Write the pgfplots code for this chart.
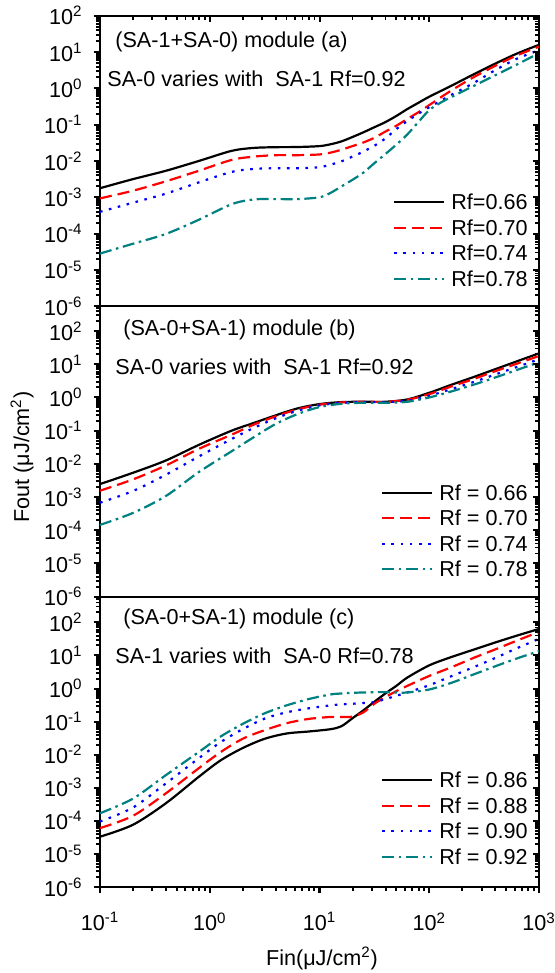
\documentclass[border=0pt]{standalone}
\usepackage{fontspec}
\setmainfont{Liberation Sans}
\usepackage{pgfplots}
\pgfplotsset{compat=1.18}
\definecolor{tealc}{RGB}{0,128,128}
\pgfplotsset{every tick/.style={black, line width=1pt}}
\begin{document}
\begin{tikzpicture}[font=\fontsize{10.8}{13}\selectfont]
% ---------- panel (a)
\begin{axis}[at={(0,290.4pt)}, anchor=south west,
    scale only axis, width=219.5pt, height=145.2pt,
    xmode=log, ymode=log, xmin=0.1, xmax=1000, ymin=1e-6, ymax=100,
    axis line style={line width=1pt},
    major tick length=3.2pt, minor tick length=2pt,
    tick align=outside, ytick pos=left,
    ytick={1e-6,1e-5,1e-4,1e-3,1e-2,1e-1,1,10,100},
    yticklabels={10\textsuperscript{-6},10\textsuperscript{-5},10\textsuperscript{-4},10\textsuperscript{-3},10\textsuperscript{-2},10\textsuperscript{-1},10\textsuperscript{0},10\textsuperscript{1},10\textsuperscript{2}},
    yticklabel style={xshift=-2.0pt},
    xtick=\empty,
    legend style={draw=none, fill=none, inner sep=0pt, at={(1,0)}, anchor=south east, xshift=-5.5pt, yshift=9.35pt, row sep=4.45pt, column sep=3pt, nodes={inner sep=0pt, text height=8pt, text depth=0.3pt}},
    legend cell align=left,
    legend image code/.code={\draw[#1] (0pt,0pt) -- (25pt,0pt);}]
\addplot[black, line width=1.1pt, solid, smooth] coordinates {(0.1,1.778e-3)(0.1995,3.162e-3)(0.398,5.37e-3)(0.794,1.0e-2)(1.585,1.905e-2)(2.512,2.291e-2)(3.981,2.399e-2)(6.310,2.427e-2)(10,2.570e-2)(12.59,2.884e-2)(15.85,3.467e-2)(19.95,4.571e-2)(25.12,6.166e-2)(31.62,8.511e-2)(39.81,0.1175)(50.12,0.1738)(63.10,0.2692)(79.43,0.3981)(100,0.5888)(158.5,1.175)(251.2,2.399)(398.1,4.786)(631.0,9.120)(1000,15.85)};
\addlegendentry{Rf=0.66}
\addplot[red, line width=1.1pt, dash pattern=on 6pt off 3pt, smooth] coordinates {(0.1,9.33e-4)(0.1995,1.514e-3)(0.398,2.754e-3)(0.794,5.37e-3)(1.585,1.072e-2)(2.512,1.318e-2)(3.981,1.445e-2)(6.310,1.445e-2)(10,1.514e-2)(12.59,1.698e-2)(15.85,2.042e-2)(19.95,2.570e-2)(25.12,3.236e-2)(31.62,4.365e-2)(39.81,6.457e-2)(50.12,9.333e-2)(63.10,0.1445)(79.43,0.2188)(100,0.3467)(158.5,0.8710)(251.2,1.995)(398.1,4.169)(631.0,8.128)(1000,14.13)};
\addlegendentry{Rf=0.70}
\addplot[blue, line width=1.1pt, dash pattern=on 1.3pt off 3.3pt, smooth] coordinates {(0.1,3.981e-4)(0.1995,7.079e-4)(0.398,1.259e-3)(0.794,2.570e-3)(1.585,5.012e-3)(2.512,6.026e-3)(3.981,6.310e-3)(6.310,6.310e-3)(10,6.761e-3)(12.59,7.943e-3)(15.85,9.772e-3)(19.95,1.318e-2)(25.12,1.820e-2)(31.62,2.630e-2)(39.81,4.169e-2)(50.12,7.586e-2)(63.10,0.1259)(79.43,0.1995)(100,0.3020)(158.5,0.6607)(251.2,1.380)(398.1,3.162)(631.0,6.607)(1000,11.22)};
\addlegendentry{Rf=0.74}
\addplot[tealc, line width=1.1pt, dash pattern=on 6pt off 2.3pt on 1.3pt off 2.3pt, smooth] coordinates {(0.1,2.818e-5)(0.1995,5.248e-5)(0.398,9.772e-5)(0.794,2.399e-4)(1.585,6.457e-4)(2.512,8.710e-4)(3.981,8.913e-4)(6.310,8.913e-4)(10,1.0e-3)(12.59,1.318e-3)(15.85,1.995e-3)(19.95,3.020e-3)(25.12,4.786e-3)(31.62,8.710e-3)(39.81,1.549e-2)(50.12,2.818e-2)(63.10,5.370e-2)(79.43,0.1175)(100,0.2512)(125.9,0.3981)(158.5,0.5754)(251.2,1.148)(398.1,2.291)(631.0,4.571)(1000,9.333)};
\addlegendentry{Rf=0.78}
\end{axis}
% ---------- panel (b)
\begin{axis}[at={(0,145.2pt)}, anchor=south west,
    scale only axis, width=219.5pt, height=145.2pt,
    xmode=log, ymode=log, xmin=0.1, xmax=1000, ymin=1e-6, ymax=562,
    axis line style={line width=1pt},
    major tick length=3.2pt, minor tick length=2pt,
    tick align=outside, ytick pos=left,
    ytick={1e-6,1e-5,1e-4,1e-3,1e-2,1e-1,1,10,100},
    yticklabels={10\textsuperscript{-6},10\textsuperscript{-5},10\textsuperscript{-4},10\textsuperscript{-3},10\textsuperscript{-2},10\textsuperscript{-1},10\textsuperscript{0},10\textsuperscript{1},10\textsuperscript{2}},
    yticklabel style={xshift=-2.0pt},
    xtick=\empty,
    legend style={draw=none, fill=none, inner sep=0pt, at={(1,0)}, anchor=south east, xshift=-5.5pt, yshift=9.35pt, row sep=4.45pt, column sep=3pt, nodes={inner sep=0pt, text height=8pt, text depth=0.3pt}},
    legend cell align=left,
    legend image code/.code={\draw[#1] (0pt,0pt) -- (25pt,0pt);}]
\addplot[black, line width=1.1pt, solid, smooth] coordinates {(0.1,2.455e-3)(0.1995,5.370e-3)(0.398,1.259e-2)(0.794,3.715e-2)(1.585,0.1)(2.512,0.1698)(3.981,0.2884)(6.310,0.4677)(10,0.6310)(15.85,0.7244)(25.12,0.7413)(39.81,0.7413)(63.10,0.8710)(100,1.380)(158.5,2.399)(251.2,4.074)(398.1,7.079)(631.0,12.30)(1000,21.38)};
\addlegendentry{Rf = 0.66}
\addplot[red, line width=1.1pt, dash pattern=on 6pt off 3pt, smooth] coordinates {(0.1,1.549e-3)(0.1995,3.388e-3)(0.398,8.913e-3)(0.794,2.818e-2)(1.585,7.586e-2)(2.512,0.1514)(3.981,0.2692)(6.310,0.4365)(10,0.6026)(15.85,0.7079)(25.12,0.7413)(39.81,0.7413)(63.10,0.8511)(100,1.259)(158.5,2.138)(251.2,3.548)(398.1,6.166)(631.0,10.47)(1000,17.78)};
\addlegendentry{Rf = 0.70}
\addplot[blue, line width=1.1pt, dash pattern=on 1.3pt off 3.3pt, smooth] coordinates {(0.1,6.761e-4)(0.1995,1.514e-3)(0.398,4.677e-3)(0.794,1.660e-2)(1.585,5.623e-2)(2.512,0.1202)(3.981,0.2344)(6.310,0.3981)(10,0.5754)(15.85,0.6918)(25.12,0.7244)(39.81,0.7244)(63.10,0.7943)(100,1.122)(158.5,1.778)(251.2,2.884)(398.1,4.898)(631.0,8.318)(1000,14.13)};
\addlegendentry{Rf = 0.74}
\addplot[tealc, line width=1.1pt, dash pattern=on 6pt off 2.3pt on 1.3pt off 2.3pt, smooth] coordinates {(0.1,1.445e-4)(0.1995,3.311e-4)(0.398,1.072e-3)(0.794,5.623e-3)(1.585,2.399e-2)(2.512,6.310e-2)(3.981,0.1585)(6.310,0.3162)(10,0.5129)(15.85,0.6457)(25.12,0.6918)(39.81,0.6918)(63.10,0.7413)(100,1.0)(158.5,1.514)(251.2,2.399)(398.1,3.981)(631.0,6.761)(1000,11.48)};
\addlegendentry{Rf = 0.78}
\end{axis}
% ---------- panel (c)
\begin{axis}[at={(0,0pt)}, anchor=south west,
    scale only axis, width=219.5pt, height=145.2pt,
    xmode=log, ymode=log, xmin=0.1, xmax=1000, ymin=1e-6, ymax=600,
    axis line style={line width=1pt},
    major tick length=3.2pt, minor tick length=2pt,
    tick align=outside, ytick pos=left, xtick pos=left,
    ytick={1e-6,1e-5,1e-4,1e-3,1e-2,1e-1,1,10,100},
    yticklabels={10\textsuperscript{-6},10\textsuperscript{-5},10\textsuperscript{-4},10\textsuperscript{-3},10\textsuperscript{-2},10\textsuperscript{-1},10\textsuperscript{0},10\textsuperscript{1},10\textsuperscript{2}},
    yticklabel style={xshift=-2.0pt},
    xtick={0.1,1,10,100,1000},
    xticklabels={10\textsuperscript{-1},10\textsuperscript{0},10\textsuperscript{1},10\textsuperscript{2},10\textsuperscript{3}},
    xticklabel style={yshift=-6pt},
    legend style={draw=none, fill=none, inner sep=0pt, at={(1,0)}, anchor=south east, xshift=-5.5pt, yshift=10.85pt, row sep=4.45pt, column sep=3pt, nodes={inner sep=0pt, text height=8pt, text depth=0.3pt}},
    legend cell align=left,
    legend image code/.code={\draw[#1] (0pt,0pt) -- (25pt,0pt);}]
\addplot[black, line width=1.1pt, solid, smooth] coordinates {(0.1,3.311e-5)(0.1995,7.586e-5)(0.398,3.388e-4)(0.794,2.138e-3)(1.259,6.761e-3)(1.995,1.585e-2)(3.162,3.020e-2)(5.012,4.365e-2)(7.943,5.012e-2)(12.59,5.888e-2)(15.85,7.244e-2)(19.95,0.1259)(25.12,0.2188)(31.62,0.3981)(39.81,0.7079)(50.12,1.202)(63.10,2.138)(100,5.012)(158.5,8.913)(251.2,14.79)(398.1,24.55)(631.0,39.81)(1000,63.10)};
\addlegendentry{Rf = 0.86}
\addplot[red, line width=1.1pt, dash pattern=on 6pt off 3pt, smooth] coordinates {(0.1,6.026e-5)(0.1995,1.413e-4)(0.398,6.761e-4)(0.794,3.890e-3)(1.259,1.202e-2)(1.995,3.020e-2)(3.162,5.495e-2)(5.012,8.913e-2)(7.943,0.1202)(12.59,0.1380)(15.85,0.1380)(19.95,0.1413)(25.12,0.1905)(31.62,0.3467)(39.81,0.5495)(50.12,0.8318)(63.10,1.202)(100,2.399)(158.5,4.365)(251.2,8.318)(398.1,15.14)(631.0,28.18)(1000,51.29)};
\addlegendentry{Rf = 0.88}
\addplot[blue, line width=1.1pt, dash pattern=on 1.3pt off 3.3pt, smooth] coordinates {(0.1,9.550e-5)(0.1995,2.512e-4)(0.398,1.349e-3)(0.794,7.762e-3)(1.259,2.399e-2)(1.995,5.888e-2)(3.162,0.1230)(5.012,0.1905)(7.943,0.2512)(12.59,0.3090)(15.85,0.3311)(19.95,0.3467)(25.12,0.3631)(31.62,0.3890)(39.81,0.4786)(50.12,0.6026)(63.10,0.7586)(100,1.259)(158.5,2.344)(251.2,4.365)(398.1,8.318)(631.0,16.60)(1000,31.62)};
\addlegendentry{Rf = 0.90}
\addplot[tealc, line width=1.1pt, dash pattern=on 6pt off 2.3pt on 1.3pt off 2.3pt, smooth] coordinates {(0.1,1.698e-4)(0.1995,4.677e-4)(0.398,2.399e-3)(0.794,1.202e-2)(1.259,3.548e-2)(1.995,8.511e-2)(3.162,0.1778)(5.012,0.3090)(7.943,0.4786)(12.59,0.6607)(15.85,0.7079)(19.95,0.7413)(25.12,0.7586)(31.62,0.7762)(39.81,0.7762)(50.12,0.7586)(63.10,0.7586)(100,0.9333)(158.5,1.479)(251.2,2.630)(398.1,4.677)(631.0,8.128)(1000,13.49)};
\addlegendentry{Rf = 0.92}
\end{axis}
% ---------- tick marks (left outward, right inward)
\foreach \base/\dec in {290.4/18.15, 145.2/16.595, 0/16.541} {
  \foreach \k in {0,...,8} {
    \pgfmathsetmacro{\yy}{\base+\k*\dec}
    \draw[line width=1pt] (0pt,\yy pt) -- ++(-3.2pt,0pt);
    \draw[line width=1pt] (219.5pt,\yy pt) -- ++(-3.2pt,0pt);
    \foreach \m in {2,...,9} {
      \pgfmathsetmacro{\ym}{\base+(\k+log10(\m))*\dec}
      \pgfmathtruncatemacro{\ok}{\ym < \base+145.0}
      \ifnum\ok=1
        \draw[line width=0.9pt] (0pt,\ym pt) -- ++(-2pt,0pt);
        \draw[line width=0.9pt] (219.5pt,\ym pt) -- ++(-2pt,0pt);
      \fi
    }
  }
}
% x ticks: top of (a) inward, bottom of (c) outward
\foreach \k in {0,...,4} {
  \pgfmathsetmacro{\xx}{\k*54.875}
  \draw[line width=1pt] (\xx pt,435.6pt) -- ++(0pt,-3.2pt);
  \draw[line width=1pt] (\xx pt,0pt) -- ++(0pt,-3.2pt);
}
\foreach \k in {0,...,3} {
  \foreach \m in {2,...,9} {
    \pgfmathsetmacro{\xm}{(\k+log10(\m))*54.875}
    \draw[line width=0.9pt] (\xm pt,435.6pt) -- ++(0pt,-2pt);
    \draw[line width=0.9pt] (\xm pt,0pt) -- ++(0pt,-2pt);
  }
}
% ---------- annotations
\node[anchor=west, inner sep=0pt] at (7.5pt,422.5pt) {(SA-1+SA-0) module (a)};
\node[anchor=west, inner sep=0pt] at (3.5pt,404pt) {SA-0 varies with\ \ SA-1 Rf=0.92};
\node[anchor=west, inner sep=0pt] at (11.5pt,278.5pt) {(SA-0+SA-1) module (b)};
\node[anchor=west, inner sep=0pt] at (7.5pt,260pt) {SA-0 varies with\ \ SA-1 Rf=0.92};
\node[anchor=west, inner sep=0pt] at (11.5pt,134pt) {(SA-0+SA-1) module (c)};
\node[anchor=west, inner sep=0pt] at (7.5pt,115.5pt) {SA-1 varies with\ \ SA-0 Rf=0.78};
\node[rotate=90] at (-39pt,215pt) {Fout (μJ/cm\textsuperscript{2})};
\node at (111pt,-35.5pt) {Fin(μJ/cm\textsuperscript{2})};
\pgfresetboundingbox
\path[use as bounding box] (-50pt,-43pt) rectangle (227.5pt,443.5pt);
\end{tikzpicture}
\end{document}
